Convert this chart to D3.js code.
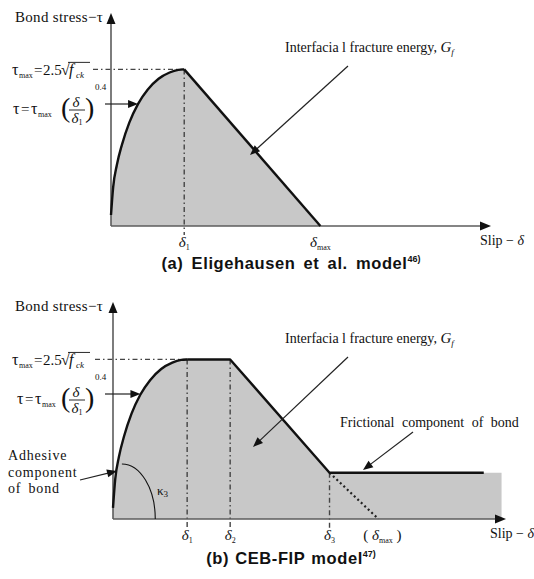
<!DOCTYPE html>
<html>
<head>
<meta charset="utf-8">
<script src="https://cdn.jsdelivr.net/npm/d3@7/dist/d3.min.js"></script>
<style>
  html, body { margin: 0; padding: 0; background: #fff; }
  svg { display: block; }
  .serif { font-family: "Liberation Serif", "Times New Roman", serif; fill: #111; }
  .title { font-family: "Liberation Sans", Arial, sans-serif; font-weight: bold; fill: #111; }
</style>
</head>
<body>
<svg id="chart" width="534" height="579"></svg>
<script>
// Ascending branch shared by both bond models: slip as δ/δ1, stress as τ/τmax
const riseSlip   = [0, 0.03, 0.08, 0.15, 0.25, 0.37, 0.50, 0.65, 0.80, 0.92, 1.00];
const riseStress = [0.07, 0.25, 0.39, 0.52, 0.66, 0.78, 0.87, 0.94, 0.98, 0.997, 1.00];

// (a) Eligehausen et al.: characteristic slips δ1, δmax
const eligSlips      = [1.00, 2.86];
const eligSlipSubs   = ["1", "max"];
const eligSlipAxisEnd = 5.19;

// (b) CEB-FIP: characteristic slips δ1, δ2, δ3, (δmax)
const cebSlips       = [1.00, 1.58, 2.92, 3.58];
const cebSlipSubs    = ["1", "2", "3", "max"];
const cebFrictionStress = 0.29;   // τf / τmax
const cebFrictionEnd = 5.00;
const cebFillEnd     = 5.24;
const cebSlipAxisEnd = 5.30;

const stressAxisEnd = 1.36;

const svg = d3.select("#chart");
const FILL = "#c8c8c8";
const AXIS = "#5c5c5c";
const DASHDOT = "5,3,1.5,3";

function arrowHead(g, x1, y1, x2, y2, len, half, color) {
  const a = Math.atan2(y2 - y1, x2 - x1);
  const bx = x2 - len * Math.cos(a), by = y2 - len * Math.sin(a);
  const px = -Math.sin(a) * half, py = Math.cos(a) * half;
  g.append("path")
    .attr("d", `M${x2},${y2}L${bx + px},${by + py}L${bx - px},${by - py}Z`)
    .attr("fill", color);
}

function pointer(g, x1, y1, x2, y2) {
  const a = Math.atan2(y2 - y1, x2 - x1);
  g.append("line")
    .attr("x1", x1).attr("y1", y1)
    .attr("x2", x2 - 6 * Math.cos(a)).attr("y2", y2 - 6 * Math.sin(a))
    .attr("stroke", "#222").attr("stroke-width", 1.2);
  arrowHead(g, x1, y1, x2, y2, 10, 4, "#111");
}

function deltaLabel(g, x, y, sub, wrap) {
  const t = g.append("text").attr("class", "serif")
    .attr("x", x).attr("y", y).attr("text-anchor", "middle").attr("font-size", 15);
  if (wrap) t.append("tspan").attr("font-style", "normal").text("( ");
  t.append("tspan").attr("font-style", "italic").text("δ");
  t.append("tspan").attr("font-size", 8).attr("dy", 3).text(sub);
  if (wrap) t.append("tspan").attr("dy", -3).text(" )");
}

function formulas(g, yMax, yBar, x0) {
  // τmax = 2.5 √fck
  const b1 = yMax + 6;
  const t1 = g.append("text").attr("class", "serif").attr("y", b1).attr("font-size", 16);
  t1.append("tspan").attr("x", 12).text("τ");
  t1.append("tspan").attr("x", 19).attr("dy", 3).attr("font-size", 8).text("max");
  t1.append("tspan").attr("x", 34).attr("dy", -3).attr("font-size", 15).text("=");
  t1.append("tspan").attr("x", 43).attr("font-size", 15).text("2.5");
  t1.append("tspan").attr("x", 61).text("√");
  t1.append("tspan").attr("x", 69).attr("font-style", "italic").text("f");
  t1.append("tspan").attr("x", 76).attr("dy", 3).attr("font-size", 9).attr("font-style", "italic").text("ck");
  g.append("line").attr("x1", 68).attr("x2", 90).attr("y1", b1 - 13).attr("y2", b1 - 13)
    .attr("stroke", "#111").attr("stroke-width", 0.9);

  // τ = τmax (δ/δ1)^0.4
  const b2 = yBar + 4;
  const t2 = g.append("text").attr("class", "serif").attr("y", b2).attr("font-size", 16);
  t2.append("tspan").attr("x", x0).text("τ");
  t2.append("tspan").attr("x", x0 + 8).attr("font-size", 15).text("=");
  t2.append("tspan").attr("x", x0 + 18).text("τ");
  t2.append("tspan").attr("x", x0 + 25).attr("dy", 3).attr("font-size", 8).text("max");
  g.append("text").attr("class", "serif").attr("x", 61).attr("y", yBar + 7)
    .attr("font-size", 28).attr("font-weight", 300).text("(");
  g.append("text").attr("class", "serif").attr("x", 85).attr("y", yBar + 7)
    .attr("font-size", 28).attr("font-weight", 300).text(")");
  g.append("text").attr("class", "serif").attr("x", 76).attr("y", yBar - 3)
    .attr("text-anchor", "middle").attr("font-size", 15).attr("font-style", "italic").text("δ");
  const den = g.append("text").attr("class", "serif").attr("x", 77).attr("y", yBar + 13)
    .attr("text-anchor", "middle").attr("font-size", 15);
  den.append("tspan").attr("font-style", "italic").text("δ");
  den.append("tspan").attr("font-size", 8).attr("dy", 2).text("1");
  g.append("line").attr("x1", 69).attr("x2", 85).attr("y1", yBar).attr("y2", yBar)
    .attr("stroke", "#111").attr("stroke-width", 0.9);
  g.append("text").attr("class", "serif").attr("x", 95).attr("y", yBar - 20)
    .attr("font-size", 9).text("0.4");
}

function panel(p) {
  const g = svg.append("g");
  const x = d3.scaleLinear().domain([0, p.slipEnd]).range([p.x0, p.x1]);
  const y = d3.scaleLinear().domain([0, stressAxisEnd]).range([p.y0, p.y1]);

  const rise = riseSlip.map((s, i) => [s * p.slips[0], riseStress[i]]);
  const riseLine = d3.line().x(d => x(d[0])).y(d => y(d[1])).curve(d3.curveMonotoneX);
  const straight = d3.line().x(d => x(d[0])).y(d => y(d[1]));
  const risePath = riseLine(rise);

  // shaded envelope
  const tail = p.fillTail.map(d => `L${x(d[0])},${y(d[1])}`).join("");
  g.append("path")
    .attr("d", `M${x(0)},${y(0)}L` + risePath.slice(1) + tail + "Z")
    .attr("fill", FILL);

  // dash-dot guides
  g.append("line").attr("x1", p.guideX).attr("x2", x(p.slips[0]))
    .attr("y1", y(1)).attr("y2", y(1))
    .attr("stroke", "#444").attr("stroke-width", 1.2).attr("stroke-dasharray", DASHDOT);
  p.guides.forEach(d => {
    g.append("line").attr("x1", x(d[0])).attr("x2", x(d[0]))
      .attr("y1", y(d[1])).attr("y2", y(0) + 9)
      .attr("stroke", "#444").attr("stroke-width", 1.4).attr("stroke-dasharray", DASHDOT);
  });

  if (p.dotted) {
    g.append("path").attr("d", straight(p.dotted))
      .attr("fill", "none").attr("stroke", "#222").attr("stroke-width", 2.2)
      .attr("stroke-dasharray", "2,2.8");
  }

  // axes
  g.append("line").attr("x1", x(0)).attr("x2", x(0)).attr("y1", y(0)).attr("y2", p.y1 + 8)
    .attr("stroke", AXIS).attr("stroke-width", 1.6);
  arrowHead(g, x(0), p.y0, x(0), p.y1, 11, 4.5, "#111");
  g.append("line").attr("x1", x(0)).attr("x2", p.x1 - 8).attr("y1", y(0)).attr("y2", y(0))
    .attr("stroke", AXIS).attr("stroke-width", 1.6);
  arrowHead(g, p.x0, y(0), p.x1, y(0), 11, 4.5, "#111");

  // envelope outline
  g.append("path").attr("d", risePath)
    .attr("fill", "none").attr("stroke", "#111").attr("stroke-width", 2.4);
  g.append("path").attr("d", straight(p.strokeTail))
    .attr("fill", "none").attr("stroke", "#111").attr("stroke-width", 2.4)
    .attr("stroke-linejoin", "round");

  // slip labels
  p.slips.forEach((s, i) => {
    deltaLabel(g, x(s) + (p.labelShift[i] || 0), y(0) + 21, p.subs[i], p.wrap[i]);
  });
  const sl = g.append("text").attr("class", "serif").attr("x", p.slipLabelX).attr("y", y(0) + 19)
    .attr("font-size", 14);
  sl.append("tspan").text("Slip");
  sl.append("tspan").text(" − ");
  sl.append("tspan").attr("font-style", "italic").text("δ");

  g.append("text").attr("class", "serif").attr("x", 15).attr("y", p.y1 + 9)
    .attr("font-size", 15).attr("letter-spacing", 0.3).text("Bond stress−τ");

  formulas(g, y(1), p.barY, p.fx);
  pointer(g, 105, p.barY - 6, x(p.pointerSlip), p.barY - 6);

  // fracture energy note
  const fe = g.append("text").attr("class", "serif").attr("x", 285).attr("y", p.feY)
    .attr("font-size", 14);
  fe.append("tspan").text("Interfacia l fracture  energy,  ");
  fe.append("tspan").attr("font-style", "italic").attr("font-size", 15).text("G");
  fe.append("tspan").attr("font-style", "italic").attr("font-size", 9).attr("dy", 3).text("f");
  pointer(g, 348, p.feY + 14, p.feTip[0], p.feTip[1]);

  // caption
  const c = g.append("text").attr("class", "title").attr("x", 291).attr("y", p.titleY)
    .attr("text-anchor", "middle").attr("font-size", 16.5).attr("letter-spacing", 0.6)
    .attr("word-spacing", p.wordSpacing);
  c.append("tspan").text(p.title);
  c.append("tspan").attr("font-size", 9).attr("dy", -7).attr("letter-spacing", 0).text(p.ref);

  return { g, x, y };
}

// (a) Eligehausen et al. model
panel({
  x0: 111, x1: 491, y0: 226, y1: 13, slipEnd: eligSlipAxisEnd,
  slips: eligSlips, subs: eligSlipSubs, wrap: [false, false], labelShift: [0, 0],
  fillTail: [[eligSlips[1], 0]],
  strokeTail: [[eligSlips[0], 1], [eligSlips[1], 0]],
  guides: [[eligSlips[0], 1]],
  guideX: 93, barY: 110, fx: 13, pointerSlip: 0.37,
  feY: 52, feTip: [250, 155],
  slipLabelX: 480, titleY: 269, title: "(a) Eligehausen et al. model", ref: "46)", wordSpacing: 3
});

// (b) CEB-FIP model
const b = panel({
  x0: 113, x1: 506, y0: 519, y1: 302, slipEnd: cebSlipAxisEnd,
  slips: cebSlips, subs: cebSlipSubs, wrap: [false, false, false, true], labelShift: [0, 0, 0, 4],
  fillTail: [[cebSlips[1], 1], [cebSlips[2], cebFrictionStress], [cebFillEnd, cebFrictionStress], [cebFillEnd, 0]],
  strokeTail: [[cebSlips[0], 1], [cebSlips[1], 1], [cebSlips[2], cebFrictionStress], [cebFrictionEnd, cebFrictionStress]],
  guides: [[cebSlips[0], 1], [cebSlips[1], 1], [cebSlips[2], cebFrictionStress]],
  dotted: [[cebSlips[2], cebFrictionStress], [cebSlips[3], 0]],
  guideX: 95, barY: 400, fx: 17, pointerSlip: 0.37,
  feY: 343, feTip: [253, 447],
  slipLabelX: 490, titleY: 564, title: "(b) CEB-FIP model", ref: "47)", wordSpacing: 1
});

// CEB-FIP annotations: frictional and adhesive components, initial stiffness angle
{
  const g = b.g, x = b.x, y = b.y;
  g.append("text").attr("class", "serif").attr("x", 340).attr("y", 427)
    .attr("font-size", 14).attr("word-spacing", 4).text("Frictional component of bond");
  pointer(g, 413, 432, 363, 470);

  const ad = g.append("text").attr("class", "serif").attr("font-size", 14).attr("letter-spacing", 0.8);
  ad.append("tspan").attr("x", 8).attr("y", 460).text("Adhesive");
  ad.append("tspan").attr("x", 8).attr("y", 477).text("component");
  ad.append("tspan").attr("x", 8).attr("y", 493).attr("word-spacing", 3).text("of bond");
  pointer(g, 80, 480, 117, 471);

  const cx = x(0.12), cy = y(0);
  const rx = x(0.57) - x(0.12), ry = y(0) - y(0.345);
  g.append("path")
    .attr("d", `M${cx},${cy - ry}A${rx},${ry} 0 0 1 ${cx + rx},${cy}`)
    .attr("fill", "none").attr("stroke", "#111").attr("stroke-width", 1.1);
  const k = g.append("text").attr("class", "serif").attr("x", 157).attr("y", 495).attr("font-size", 13);
  k.append("tspan").text("κ");
  k.append("tspan").attr("font-size", 9).attr("dy", 2).text("3");
}
</script>
</body>
</html>
